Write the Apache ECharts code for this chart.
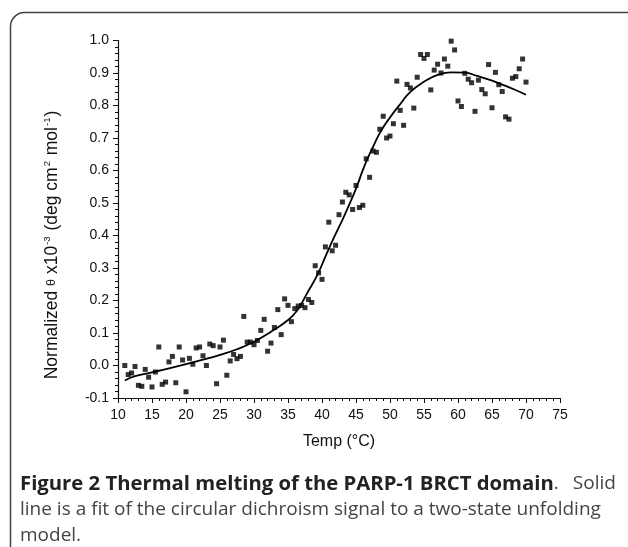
<!DOCTYPE html>
<html>
<head>
<meta charset="utf-8">
<script src="https://cdn.jsdelivr.net/npm/echarts@6/dist/echarts.min.js"></script>
<style>
html,body{margin:0;padding:0;background:#fff;}
#chart{width:628px;height:547px;}
</style>
</head>
<body>
<div id="chart"></div>
<script>
// Measured data (temperature in °C, normalized ellipticity)
const temps = [11,11.5,12,12.5,13,13.5,14,14.5,15,15.5,16,16.5,17,17.5,18,18.5,19,19.5,20,20.5,
  21,21.5,22,22.5,23,23.5,24,24.5,25,25.5,26,26.5,27,27.5,28,28.5,29,29.5,30,30.5,
  31,31.5,32,32.5,33,33.5,34,34.5,35,35.5,36,36.5,37,37.5,38,38.5,39,39.5,40,40.5,
  41,41.5,42,42.5,43,43.5,44,44.5,45,45.5,46,46.5,47,47.5,48,48.5,49,49.5,50,50.5,
  51,51.5,52,52.5,53,53.5,54,54.5,55,55.5,56,56.5,57,57.5,58,58.5,59,59.5,60,60.5,
  61,61.5,62,62.5,63,63.5,64,64.5,65,65.5,66,66.5,67,67.5,68,68.5,69,69.5,70];
const theta = [0.000,-0.028,-0.023,-0.003,-0.061,-0.064,-0.012,-0.036,-0.066,-0.020,
  0.057,-0.058,-0.051,0.011,0.028,-0.053,0.057,0.017,-0.081,0.022,
  0.004,0.054,0.057,0.030,0.000,0.066,0.061,-0.056,0.057,0.078,
  -0.030,0.014,0.034,0.021,0.028,0.151,0.072,0.072,0.064,0.077,
  0.108,0.142,0.044,0.069,0.117,0.172,0.095,0.205,0.185,0.135,
  0.175,0.183,0.185,0.178,0.203,0.194,0.307,0.285,0.265,0.365,
  0.441,0.353,0.370,0.464,0.503,0.533,0.525,0.480,0.554,0.486,
  0.493,0.636,0.579,0.660,0.656,0.727,0.767,0.700,0.706,0.744,
  0.875,0.785,0.739,0.865,0.854,0.792,0.887,0.957,0.945,0.957,
  0.848,0.909,0.927,0.900,0.943,0.921,0.998,0.971,0.814,0.797,
  0.899,0.881,0.870,0.782,0.878,0.849,0.836,0.926,0.793,0.902,
  0.864,0.843,0.765,0.758,0.884,0.889,0.913,0.943,0.872];

// Two-state fit curve
const fitTemps = [11,12.5,15,17.5,20,22.5,25,27.5,30,32.5,35,36.4,37.8,39.3,40.5,41.7,43,44.2,45.2,
  46.2,47.4,48.6,50.1,51.6,53,55,57,59,61,62.8,64.8,66.3,68.2,70];
const fitTheta = [-0.046,-0.033,-0.021,-0.009,0.004,0.018,0.033,0.050,0.073,0.104,0.140,0.171,0.222,0.278,0.335,0.391,0.448,0.504,0.555,
  0.612,0.668,0.719,0.766,0.807,0.842,0.873,0.894,0.902,0.901,0.891,0.878,0.866,0.850,0.833];

const xTicks = [10,15,20,25,30,35,40,45,50,55,60,65,70,75];
const yTicks = [-0.1,0.0,0.1,0.2,0.3,0.4,0.5,0.6,0.7,0.8,0.9,1.0];

const xAxisTitle = 'Temp (°C)';
const captionBold = 'Figure 2 Thermal melting of the PARP-1 BRCT domain';
const captionLines = ['.', 'Solid', 'line is a fit of the circular dichroism signal to a two-state unfolding', 'model.'];

const chart = echarts.init(document.getElementById('chart'));
const axisFont = 'Liberation Sans, Arial, sans-serif';
const capFont = '"Open Sans", "Noto Sans", sans-serif';
const capSize = 19;

chart.setOption({
  animation: false,
  backgroundColor: '#ffffff',
  grid: { left: 118, top: 40.5, width: 442, height: 357.5, containLabel: false },
  xAxis: {
    type: 'value', min: xTicks[0], max: xTicks[xTicks.length-1], interval: 5,
    name: xAxisTitle, nameLocation: 'middle', nameGap: 36,
    nameTextStyle: { fontFamily: axisFont, fontSize: 16, color: '#111' },
    axisLine: { show: true, onZero: false, lineStyle: { color: '#111', width: 1.2 } },
    axisTick: { show: true, inside: false, length: 5, lineStyle: { color: '#111', width: 1 } },
    minorTick: { show: true, splitNumber: 5, length: 3, lineStyle: { color: '#111', width: 1 } },
    axisLabel: { fontFamily: axisFont, fontSize: 14, color: '#111', margin: 10 },
    splitLine: { show: false }
  },
  yAxis: {
    type: 'value', min: yTicks[0], max: yTicks[yTicks.length-1], interval: 0.1,
    axisLine: { show: true, onZero: false, lineStyle: { color: '#111', width: 1.2 } },
    axisTick: { show: true, inside: false, length: 5, lineStyle: { color: '#111', width: 1 } },
    minorTick: { show: true, splitNumber: 5, length: 3, lineStyle: { color: '#111', width: 1 } },
    axisLabel: { fontFamily: axisFont, fontSize: 14, color: '#111', margin: 9,
      formatter: v => v.toFixed(1) },
    splitLine: { show: false }
  },
  series: [
    {
      type: 'scatter', symbol: 'rect', symbolSize: 5,
      itemStyle: { color: '#000' },
      data: temps.map((t, i) => [t, theta[i]]),
      clip: true, z: 3
    },
    {
      type: 'line', smooth: 0.5, showSymbol: false, symbol: 'none',
      lineStyle: { color: '#000', width: 1.8 },
      data: fitTemps.map((t, i) => [t, fitTheta[i]]),
      z: 2
    }
  ],
  graphic: [
    { type: 'rect', shape: { x: 10.5, y: 12.5, width: 640, height: 560, r: 14 },
      style: { fill: 'none', stroke: '#444', lineWidth: 1.5 }, silent: true },
    { type: 'text', x: 52, y: 245, rotation: Math.PI / 2,
      style: {
        text: '{n|Normalized }{t|θ}{n| x10}{s|-3}{n| (deg cm}{s|2}{n| mol}{s|-1}{n|)}',
        align: 'center', verticalAlign: 'middle',
        rich: {
          n: { fontFamily: axisFont, fontSize: 17.5, fill: '#111', lineHeight: 20 },
          t: { fontFamily: axisFont, fontSize: 12.5, fill: '#111', lineHeight: 20 },
          s: { fontFamily: axisFont, fontSize: 9.5, fill: '#111', verticalAlign: 'top', lineHeight: 20, padding: [0, 1, 8, 1] }
        }
      } },
    { type: 'text', left: 20, top: 474,
      style: { text: '{b|' + captionBold + '}{r|' + captionLines[0] + '}{s|' + captionLines[1] + '}',
        rich: {
          b: { fontFamily: capFont, fontWeight: 'bold', fontSize: 20.3, fill: '#222' },
          r: { fontFamily: capFont, fontSize: capSize, fill: '#444' },
          s: { fontFamily: capFont, fontSize: capSize, fill: '#444', padding: [0, 0, 0, 14] }
        } } },
    { type: 'text', left: 20, top: 500,
      style: { text: captionLines[2], fontFamily: capFont, fontSize: capSize, fill: '#444' } },
    { type: 'text', left: 20, top: 526,
      style: { text: captionLines[3], fontFamily: capFont, fontSize: capSize, fill: '#444' } }
  ]
});
</script>
</body>
</html>
